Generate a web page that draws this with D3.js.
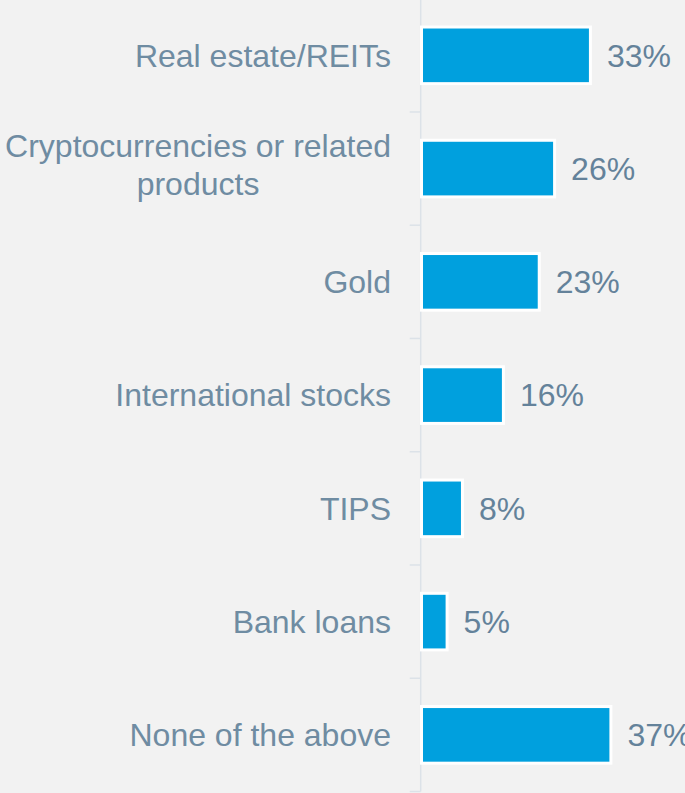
<!DOCTYPE html>
<html>
<head>
<meta charset="utf-8">
<script src="https://cdn.jsdelivr.net/npm/d3@7"></script>
<style>
  html, body { margin: 0; padding: 0; background: #f2f2f2; overflow: hidden; }
  svg { display: block; }
</style>
</head>
<body>
<svg id="chart" width="685" height="793"></svg>
<script>
// Survey responses: share of respondents per asset class (percent)
const categories = [
  "Real estate/REITs",
  "Cryptocurrencies or related products",
  "Gold",
  "International stocks",
  "TIPS",
  "Bank loans",
  "None of the above"
];
const values = [33, 26, 23, 16, 8, 5, 37];
const valueLabels = ["33%", "26%", "23%", "16%", "8%", "5%", "37%"];

const data = categories.map((c, i) => ({ category: c, value: values[i], label: valueLabels[i] }));

const W = 685, H = 793;
const axisX = 420.7;
const labelRight = 391;
const fontSize = 32;
const lineH = 38;
const labelColor = "#6f8ca2";
const valueColor = "#64829a";
const barColor = "#00a0de";
const axisColor = "#dce2e8";

const svg = d3.select("#chart");

svg.append("rect").attr("width", W).attr("height", H).attr("fill", "#f2f2f2");

const y = d3.scaleBand()
  .domain(categories)
  .range([-1.3, 791.5])
  .paddingInner(0.5)
  .paddingOuter(0.25);

const x = d3.scaleLinear()
  .domain([0, 37])
  .range([421.5, 610.9]);

const step = y.step();
const gap = step * y.paddingInner() / 2;

// vertical axis line
svg.append("line")
  .attr("x1", axisX).attr("x2", axisX)
  .attr("y1", y.range()[0]).attr("y2", y.range()[1])
  .attr("stroke", axisColor).attr("stroke-width", 1.5);

// tick marks between categories
const boundaries = categories.map(c => y(c) - gap).concat([y(categories[categories.length - 1]) + y.bandwidth() + gap]);
svg.append("g").selectAll("line")
  .data(boundaries)
  .join("line")
  .attr("x1", axisX - 11).attr("x2", axisX)
  .attr("y1", d => d).attr("y2", d => d)
  .attr("stroke", axisColor).attr("stroke-width", 1.5);

// bars with a white outline
svg.append("g").selectAll("rect")
  .data(data)
  .join("rect")
  .attr("x", x(0))
  .attr("y", d => y(d.category))
  .attr("width", d => x(d.value) - x(0))
  .attr("height", y.bandwidth())
  .attr("fill", barColor)
  .attr("stroke", "#ffffff")
  .attr("stroke-width", 3);

// value labels
svg.append("g").selectAll("text")
  .data(data)
  .join("text")
  .attr("x", d => x(d.value) + 16.5)
  .attr("y", d => y(d.category) + y.bandwidth() / 2)
  .attr("dy", "0.35em")
  .attr("font-family", "'Liberation Sans', Arial, sans-serif")
  .attr("font-size", fontSize)
  .attr("fill", valueColor)
  .text(d => d.label);

// category labels, wrapped to fit left of the axis
const measure = svg.append("text")
  .attr("font-family", "'Liberation Sans', Arial, sans-serif")
  .attr("font-size", fontSize)
  .attr("visibility", "hidden");

function textWidth(s) {
  measure.text(s);
  return measure.node().getComputedTextLength();
}

function wrap(s, maxW) {
  const words = s.split(" ");
  const lines = [];
  let cur = "";
  words.forEach(w => {
    const t = cur ? cur + " " + w : w;
    if (cur && textWidth(t) > maxW) { lines.push(cur); cur = w; }
    else cur = t;
  });
  if (cur) lines.push(cur);
  return lines;
}

const labelG = svg.append("g");
data.forEach(d => {
  const lines = wrap(d.category, 390);
  const widest = d3.max(lines, textWidth);
  const cx = labelRight - widest / 2;
  const cy = y(d.category) + y.bandwidth() / 2;
  const shift = lines.length > 1 ? -4 : 0;
  const t = labelG.append("text")
    .attr("font-family", "'Liberation Sans', Arial, sans-serif")
    .attr("font-size", fontSize)
    .attr("fill", labelColor)
    .attr("text-anchor", "middle");
  lines.forEach((ln, i) => {
    t.append("tspan")
      .attr("x", cx)
      .attr("y", cy + fontSize * 0.35 + (i - (lines.length - 1) / 2) * lineH + shift)
      .text(ln);
  });
});
measure.remove();
</script>
</body>
</html>
